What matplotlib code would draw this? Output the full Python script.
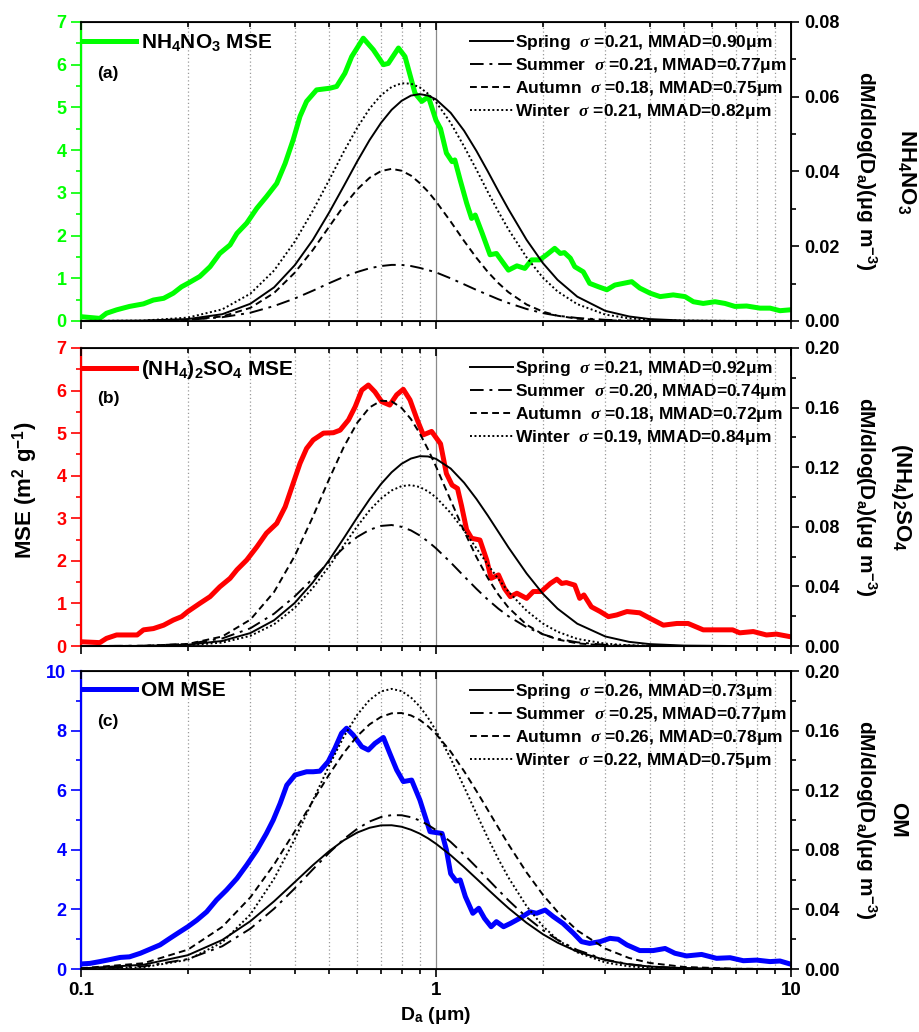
import numpy as np
import matplotlib
matplotlib.use('Agg')
import matplotlib.pyplot as plt
from matplotlib.ticker import MultipleLocator, LogLocator, NullFormatter, FixedLocator, FixedFormatter, FormatStrFormatter

plt.rcParams['font.family'] = ['Liberation Sans', 'DejaVu Sans']
plt.rcParams['font.weight'] = 'bold'
plt.rcParams['mathtext.fontset'] = 'custom'
plt.rcParams['mathtext.rm'] = 'Liberation Sans:bold'
plt.rcParams['mathtext.it'] = 'Liberation Serif:italic'
plt.rcParams['mathtext.bf'] = 'Liberation Sans:bold'
plt.rcParams['mathtext.sf'] = 'Liberation Sans:bold'

# ---- MSE curves (left axis) ----
nh4no3_d = [0.100, 0.113, 0.118, 0.126, 0.137, 0.150, 0.160, 0.171, 0.182, 0.192, 0.200, 0.216, 0.231, 0.246,
            0.263, 0.275, 0.293, 0.313, 0.333, 0.356, 0.376, 0.396, 0.414, 0.432, 0.461, 0.503, 0.525, 0.554,
            0.579, 0.624, 0.666, 0.711, 0.734, 0.784, 0.818, 0.873, 0.912, 0.952, 1.00, 1.03, 1.07, 1.11, 1.13,
            1.17, 1.22, 1.26, 1.29, 1.35, 1.42, 1.48, 1.60, 1.69, 1.78, 1.86, 1.96, 2.05, 2.16, 2.24, 2.30, 2.39,
            2.46, 2.60, 2.71, 2.87, 3.03, 3.19, 3.37, 3.56, 3.75, 4.01, 4.28, 4.66, 5.03, 5.31, 5.66, 6.11, 6.52,
            6.95, 7.50, 8.18, 8.73, 9.31, 9.94]
nh4no3_mse = [0.10, 0.06, 0.18, 0.26, 0.34, 0.40, 0.49, 0.53, 0.65, 0.80, 0.88, 1.04, 1.27, 1.58, 1.78, 2.05,
              2.29, 2.64, 2.91, 3.22, 3.69, 4.24, 4.79, 5.14, 5.41, 5.45, 5.49, 5.80, 6.19, 6.62, 6.35, 6.00,
              6.03, 6.39, 6.19, 5.33, 5.14, 5.25, 4.70, 4.50, 3.93, 3.73, 3.77, 3.30, 2.76, 2.40, 2.48, 2.05,
              1.55, 1.58, 1.19, 1.29, 1.23, 1.43, 1.43, 1.55, 1.70, 1.58, 1.60, 1.47, 1.27, 1.15, 0.88, 0.80,
              0.73, 0.84, 0.88, 0.92, 0.77, 0.65, 0.57, 0.61, 0.57, 0.45, 0.41, 0.45, 0.41, 0.34, 0.35, 0.30,
              0.30, 0.24, 0.26]

so4_d = [0.100, 0.113, 0.118, 0.126, 0.137, 0.144, 0.150, 0.160, 0.171, 0.182, 0.192, 0.200, 0.216, 0.231,
         0.246, 0.263, 0.275, 0.293, 0.313, 0.333, 0.356, 0.376, 0.396, 0.414, 0.432, 0.451, 0.482, 0.514,
         0.537, 0.567, 0.592, 0.618, 0.645, 0.673, 0.703, 0.741, 0.775, 0.809, 0.845, 0.882, 0.921, 0.972,
         1.03, 1.07, 1.11, 1.15, 1.18, 1.22, 1.26, 1.33, 1.39, 1.43, 1.50, 1.56, 1.62, 1.69, 1.80, 1.88, 1.98,
         2.10, 2.19, 2.26, 2.33, 2.46, 2.54, 2.61, 2.74, 2.90, 3.06, 3.23, 3.45, 3.75, 4.01, 4.37, 4.77, 5.13,
         5.66, 6.32, 6.85, 7.17, 7.83, 8.53, 9.10, 9.94]
so4_mse = [0.10, 0.08, 0.18, 0.26, 0.26, 0.26, 0.38, 0.41, 0.49, 0.61, 0.69, 0.81, 1.00, 1.16, 1.39, 1.59,
           1.79, 2.02, 2.33, 2.65, 2.88, 3.27, 3.82, 4.29, 4.64, 4.84, 5.00, 5.01, 5.07, 5.31, 5.62, 6.01,
           6.13, 5.97, 5.74, 5.66, 5.90, 6.03, 5.78, 5.35, 4.96, 5.04, 4.75, 4.05, 3.78, 3.70, 3.30, 2.73,
           2.53, 2.49, 2.02, 1.59, 1.67, 1.35, 1.16, 1.24, 1.12, 1.28, 1.28, 1.47, 1.57, 1.47, 1.49, 1.43,
           1.12, 1.20, 0.92, 0.81, 0.69, 0.73, 0.81, 0.78, 0.65, 0.49, 0.53, 0.53, 0.38, 0.38, 0.38, 0.31,
           0.34, 0.26, 0.28, 0.22]

om_d = [0.100, 0.106, 0.113, 0.121, 0.129, 0.137, 0.147, 0.156, 0.167, 0.178, 0.190, 0.200, 0.212, 0.226,
        0.241, 0.257, 0.275, 0.293, 0.313, 0.333, 0.348, 0.364, 0.380, 0.401, 0.432, 0.451, 0.471, 0.497,
        0.519, 0.542, 0.560, 0.585, 0.618, 0.645, 0.673, 0.711, 0.741, 0.775, 0.809, 0.854, 0.901, 0.962,
        1.00, 1.04, 1.07, 1.10, 1.14, 1.17, 1.21, 1.27, 1.32, 1.37, 1.43, 1.48, 1.55, 1.62, 1.72, 1.84, 1.92,
        2.03, 2.14, 2.28, 2.44, 2.57, 2.71, 2.90, 3.09, 3.26, 3.45, 3.75, 4.09, 4.42, 4.71, 5.08, 5.60, 6.17,
        6.74, 7.34, 8.00, 8.73, 9.31, 9.94]
om_mse = [0.17, 0.19, 0.25, 0.32, 0.39, 0.41, 0.53, 0.66, 0.81, 1.03, 1.25, 1.42, 1.64, 1.92, 2.32, 2.65,
          3.04, 3.49, 3.99, 4.55, 5.00, 5.56, 6.17, 6.51, 6.62, 6.62, 6.64, 6.96, 7.40, 7.91, 8.08, 7.85,
          7.46, 7.35, 7.57, 7.77, 7.24, 6.68, 6.29, 6.34, 5.67, 4.61, 4.58, 4.55, 4.00, 3.20, 2.95, 2.99,
          2.43, 1.87, 2.04, 1.70, 1.42, 1.59, 1.42, 1.53, 1.70, 1.92, 1.87, 1.98, 1.76, 1.53, 1.20, 0.92,
          0.86, 0.92, 1.03, 1.00, 0.81, 0.62, 0.62, 0.69, 0.53, 0.44, 0.49, 0.36, 0.38, 0.28, 0.30, 0.25,
          0.27, 0.17]

# ---- seasonal size distributions (right axis) ----
dist_d = [0.1, 0.15, 0.2, 0.25, 0.3, 0.35, 0.4, 0.45, 0.5, 0.55, 0.6, 0.65, 0.7, 0.75, 0.8, 0.85, 0.9, 0.95, 1.0,
          1.1, 1.2, 1.3, 1.4, 1.5, 1.6, 1.8, 2.0, 2.2, 2.5, 3.0, 3.5, 4.0, 5.0, 7.0, 10.0]

a_spring = [0.0000, 0.0001, 0.0005, 0.0018, 0.0046, 0.0090, 0.0149, 0.0217, 0.0290, 0.0361, 0.0427, 0.0484,
            0.0530, 0.0565, 0.0589, 0.0603, 0.0607, 0.0603, 0.0593, 0.0557, 0.0509, 0.0455, 0.0400, 0.0347,
            0.0299, 0.0217, 0.0155, 0.0110, 0.0065, 0.0027, 0.0012, 0.0005, 0.0001, 0.0000, 0.0000]
a_summer = [0.0000, 0.0000, 0.0003, 0.0010, 0.0022, 0.0040, 0.0060, 0.0081, 0.0101, 0.0118, 0.0131, 0.0141,
            0.0147, 0.0150, 0.0150, 0.0147, 0.0142, 0.0136, 0.0130, 0.0114, 0.0098, 0.0083, 0.0070, 0.0058,
            0.0048, 0.0032, 0.0021, 0.0014, 0.0008, 0.0003, 0.0001, 0.0000, 0.0000, 0.0000, 0.0000]
a_autumn = [0.0000, 0.0000, 0.0003, 0.0012, 0.0035, 0.0075, 0.0129, 0.0190, 0.0252, 0.0308, 0.0352, 0.0383,
            0.0401, 0.0407, 0.0402, 0.0389, 0.0369, 0.0346, 0.0320, 0.0266, 0.0214, 0.0169, 0.0131, 0.0101,
            0.0077, 0.0044, 0.0025, 0.0014, 0.0006, 0.0002, 0.0000, 0.0000, 0.0000, 0.0000, 0.0000]
a_winter = [0.0000, 0.0001, 0.0009, 0.0031, 0.0073, 0.0135, 0.0212, 0.0295, 0.0377, 0.0453, 0.0517, 0.0568,
            0.0604, 0.0626, 0.0636, 0.0635, 0.0625, 0.0608, 0.0586, 0.0530, 0.0467, 0.0405, 0.0345, 0.0292,
            0.0245, 0.0170, 0.0116, 0.0079, 0.0045, 0.0017, 0.0007, 0.0003, 0.0001, 0.0000, 0.0000]

b_spring = [0.0000, 0.0001, 0.0009, 0.0034, 0.0087, 0.0173, 0.0289, 0.0427, 0.0576, 0.0724, 0.0863, 0.0985,
            0.1087, 0.1166, 0.1223, 0.1258, 0.1274, 0.1272, 0.1256, 0.1191, 0.1096, 0.0987, 0.0875, 0.0765,
            0.0662, 0.0487, 0.0351, 0.0251, 0.0150, 0.0064, 0.0028, 0.0013, 0.0003, 0.0000, 0.0000]
b_summer = [0.0000, 0.0002, 0.0014, 0.0051, 0.0119, 0.0217, 0.0333, 0.0453, 0.0565, 0.0660, 0.0732, 0.0780,
            0.0806, 0.0812, 0.0800, 0.0776, 0.0742, 0.0701, 0.0656, 0.0561, 0.0468, 0.0384, 0.0311, 0.0250,
            0.0200, 0.0126, 0.0079, 0.0049, 0.0025, 0.0008, 0.0003, 0.0001, 0.0000, 0.0000, 0.0000]
b_autumn = [0.0000, 0.0001, 0.0014, 0.0064, 0.0177, 0.0363, 0.0604, 0.0867, 0.1120, 0.1336, 0.1498, 0.1601,
            0.1646, 0.1642, 0.1598, 0.1523, 0.1427, 0.1319, 0.1205, 0.0978, 0.0772, 0.0597, 0.0456, 0.0344,
            0.0258, 0.0143, 0.0079, 0.0044, 0.0018, 0.0004, 0.0001, 0.0000, 0.0000, 0.0000, 0.0000]
b_winter = [0.0000, 0.0000, 0.0005, 0.0023, 0.0068, 0.0146, 0.0256, 0.0390, 0.0535, 0.0676, 0.0803, 0.0910,
            0.0990, 0.1044, 0.1073, 0.1080, 0.1067, 0.1038, 0.0998, 0.0893, 0.0775, 0.0656, 0.0546, 0.0449,
            0.0365, 0.0237, 0.0151, 0.0096, 0.0048, 0.0016, 0.0005, 0.0002, 0.0000, 0.0000, 0.0000]

c_spring = [0.0004, 0.0029, 0.0093, 0.0195, 0.0321, 0.0455, 0.0583, 0.0697, 0.0791, 0.0864, 0.0916, 0.0948,
            0.0964, 0.0965, 0.0955, 0.0935, 0.0909, 0.0877, 0.0841, 0.0764, 0.0684, 0.0607, 0.0535, 0.0469,
            0.0409, 0.0310, 0.0234, 0.0177, 0.0117, 0.0060, 0.0031, 0.0017, 0.0006, 0.0001, 0.0000]
c_summer = [0.0002, 0.0018, 0.0067, 0.0153, 0.0271, 0.0405, 0.0541, 0.0669, 0.0780, 0.0872, 0.0941, 0.0990,
            0.1020, 0.1033, 0.1032, 0.1019, 0.0997, 0.0967, 0.0933, 0.0853, 0.0768, 0.0684, 0.0603, 0.0529,
            0.0461, 0.0348, 0.0262, 0.0196, 0.0128, 0.0063, 0.0033, 0.0017, 0.0005, 0.0001, 0.0000]
c_autumn = [0.0005, 0.0039, 0.0130, 0.0283, 0.0481, 0.0702, 0.0923, 0.1128, 0.1305, 0.1451, 0.1563, 0.1642,
            0.1692, 0.1716, 0.1718, 0.1702, 0.1672, 0.1629, 0.1578, 0.1459, 0.1328, 0.1195, 0.1067, 0.0947,
            0.0837, 0.0648, 0.0499, 0.0384, 0.0259, 0.0137, 0.0074, 0.0041, 0.0014, 0.0002, 0.0000]
c_winter = [0.0001, 0.0012, 0.0062, 0.0179, 0.0366, 0.0606, 0.0871, 0.1131, 0.1365, 0.1559, 0.1706, 0.1806,
            0.1863, 0.1880, 0.1865, 0.1823, 0.1762, 0.1686, 0.1600, 0.1413, 0.1222, 0.1043, 0.0880, 0.0737,
            0.0614, 0.0422, 0.0288, 0.0197, 0.0112, 0.0044, 0.0018, 0.0008, 0.0002, 0.0000, 0.0000]

seasons = ['Spring', 'Summer', 'Autumn', 'Winter']
a_sigma = ['0.21', '0.21', '0.18', '0.21']
a_mmad = ['0.90', '0.77', '0.75', '0.82']
b_sigma = ['0.21', '0.20', '0.18', '0.19']
b_mmad = ['0.92', '0.74', '0.72', '0.84']
c_sigma = ['0.26', '0.25', '0.26', '0.22']
c_mmad = ['0.73', '0.77', '0.78', '0.75']

species = ['NH$_4$NO$_3$', '(NH$_4$)$_2$SO$_4$', 'OM']
tags = ['(a)', '(b)', '(c)']
colors = ['#00ff00', '#ff0000', '#0000ff']

panels = [
    (nh4no3_d, nh4no3_mse, [a_spring, a_summer, a_autumn, a_winter], a_sigma, a_mmad),
    (so4_d, so4_mse, [b_spring, b_summer, b_autumn, b_winter], b_sigma, b_mmad),
    (om_d, om_mse, [c_spring, c_summer, c_autumn, c_winter], c_sigma, c_mmad),
]
left_max = [7, 7, 10]
left_major = [1, 1, 2]
right_max = [0.08, 0.20, 0.20]
right_major = [0.02, 0.04, 0.04]
styles = ['-', (0, (7, 3, 1.5, 3)), (0, (3.5, 2.2)), (0, (1, 1.3))]
species_x = [1.163, 1.155, 1.15]

fig = plt.figure(figsize=(9.19, 10.32), dpi=100)
rects = [[0.0881, 0.6890, 0.7726, 0.2897],
         [0.0881, 0.3740, 0.7726, 0.2888],
         [0.0881, 0.0610, 0.7726, 0.2888]]

for i in range(3):
    d, mse, fits, sig, mmad = panels[i]
    ax = fig.add_axes(rects[i])
    ax2 = ax.twinx()

    # grid: dotted at minor decades, solid at 1
    ax.set_xscale('log')
    ax.set_xlim(0.1, 10)
    ax.grid(which='minor', axis='x', linestyle=(0, (1, 2)), color='#9a9a9a', linewidth=0.9)
    ax.grid(which='major', axis='x', linestyle='-', color='#8a8a8a', linewidth=0.9)
    ax.set_axisbelow(True)

    mse_line, = ax.plot(d, mse, color=colors[i], linewidth=3.6, solid_joinstyle='round',
                        label=species[i] + ' MSE')
    ax.set_ylim(0, left_max[i])

    handles = []
    for k in range(4):
        label = seasons[k] + '  $\\sigma$ =' + sig[k] + ', MMAD=' + mmad[k] + 'μm'
        h, = ax2.plot(dist_d, fits[k], color='black', linestyle=styles[k], linewidth=1.4, label=label)
        handles.append(h)
    ax2.set_ylim(0, right_max[i])
    ax2.set_xlim(0.1, 10)

    # left axis
    ax.yaxis.set_major_locator(MultipleLocator(left_major[i]))
    ax.yaxis.set_minor_locator(MultipleLocator(left_major[i] / 2))
    ax.tick_params(axis='y', which='both', colors=colors[i], labelsize=13, direction='out', width=1.2)
    ax.tick_params(axis='y', which='major', length=7)
    ax.tick_params(axis='y', which='minor', length=3.5)
    ax.spines['left'].set_color(colors[i])
    ax.spines['left'].set_linewidth(1.6)
    for s in ['top', 'bottom']:
        ax.spines[s].set_linewidth(1.3)

    # right axis
    ax2.yaxis.set_major_locator(MultipleLocator(right_major[i]))
    ax2.yaxis.set_minor_locator(MultipleLocator(right_major[i] / 2))
    ax2.yaxis.set_major_formatter(FormatStrFormatter('%.2f'))
    ax2.tick_params(axis='y', which='both', labelsize=13, direction='out', width=1.2)
    ax2.tick_params(axis='y', which='major', length=6)
    ax2.tick_params(axis='y', which='minor', length=3.5)
    ax2.spines['right'].set_linewidth(1.3)
    ax2.spines['left'].set_visible(False)

    # x axis: outward ticks at the bottom, inward ticks at the top
    ax.xaxis.set_major_locator(FixedLocator([0.1, 1, 10]))
    ax.xaxis.set_minor_locator(LogLocator(base=10, subs=np.arange(2, 10)))
    ax.xaxis.set_minor_formatter(NullFormatter())
    ax.tick_params(axis='x', which='both', direction='out', top=False, width=1.2, labelsize=13.5)
    ax.tick_params(axis='x', which='major', length=6)
    ax.tick_params(axis='x', which='minor', length=3.5)
    ax2.xaxis.set_visible(True)
    ax2.tick_params(axis='x', which='both', bottom=False, top=True, direction='in', width=1.2,
                    labelbottom=False, labeltop=False)
    ax2.tick_params(axis='x', which='major', length=6)
    ax2.tick_params(axis='x', which='minor', length=3.5)
    if i == 2:
        ax.xaxis.set_major_formatter(FixedFormatter(['0.1', '1', '10']))
        ax.set_xlabel('D$_\\mathrm{a}$ (μm)', fontsize=14, fontweight='bold', labelpad=4)
    else:
        ax.tick_params(axis='x', labelbottom=False)

    # legends
    leg1 = ax2.legend(handles=[mse_line], loc='upper left', bbox_to_anchor=(0.003, 0.965), frameon=False,
                      fontsize=15, handlelength=2.55, handletextpad=0.25, borderpad=0, borderaxespad=0)
    ax2.add_artist(leg1)
    ax2.legend(handles=handles, loc='upper left', bbox_to_anchor=(0.548, 0.962), frameon=False,
               fontsize=12.5, handlelength=2.45, handletextpad=0.15, labelspacing=0.22,
               borderpad=0, borderaxespad=0)
    ax.text(0.0225, 0.829, tags[i], transform=ax.transAxes, fontsize=12.5, fontweight='bold',
            ha='left', va='center')

    # right labels
    ax.text(1.105, 0.5, 'dM/dlog(D$_\\mathrm{a}$)(μg m$^{-3}$)', transform=ax.transAxes, rotation=270,
            ha='center', va='center', fontsize=15, fontweight='bold')
    ax.text(species_x[i], 0.5, species[i], transform=ax.transAxes, rotation=270,
            ha='center', va='center', fontsize=16, fontweight='bold')

fig.text(0.027, 0.525, 'MSE (m$^2$ g$^{-1}$)', rotation=90, ha='center', va='center',
         fontsize=16, fontweight='bold')

fig.savefig('out.png', dpi=100)
